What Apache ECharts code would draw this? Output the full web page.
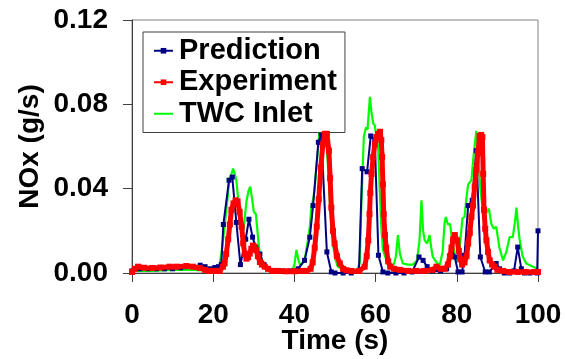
<!DOCTYPE html>
<html>
<head>
<meta charset="utf-8">
<script src="https://cdn.jsdelivr.net/npm/echarts@6/dist/echarts.min.js"></script>
<style>
  html, body { margin: 0; padding: 0; background: #fff; }
  #chart { width: 566px; height: 359px; }
</style>
</head>
<body>
<div id="chart"></div>
<script>
// NOx mass flow over the first 100 s: model prediction, measured tailpipe, and TWC inlet feed.
const seriesNames = ['Prediction', 'Experiment', 'TWC Inlet'];
const xTicks = { min: 0, max: 100, step: 20 };
const yTicks = { min: 0, max: 0.12, step: 0.04 };

// [time (s), NOx (g/s)]
const prediction = [
  [0, 0.001], [0.7, 0.002], [2, 0.002], [4, 0.002], [6, 0.002], [8, 0.002], [10, 0.002],
  [12, 0.0025], [13.3, 0.003], [15, 0.003], [16.8, 0.0037], [18, 0.003], [19.3, 0.002],
  [20.4, 0.0026], [21.3, 0.003], [22, 0.004], [22.5, 0.023], [23.9, 0.044], [24.7, 0.0455],
  [25.7, 0.024], [26.7, 0.004], [28, 0.016], [28.8, 0.0255], [29.7, 0.017], [30.5, 0.012],
  [31.5, 0.009], [32.5, 0.004], [33.5, 0.002], [35, 0.001], [37, 0.001], [39, 0.001],
  [40.9, 0.002], [42.5, 0.006], [43.8, 0.017], [44.6, 0.032], [45.9, 0.062], [46.6, 0.066],
  [48, 0.010], [49.1, 0.0005], [50, 0], [52, 0], [54, 0], [55.9, 0.001], [56.7, 0.0495],
  [57.9, 0.048], [58.8, 0.065], [59.8, 0.063], [60.7, 0.0084], [61.8, 0.0005], [63, 0],
  [65, 0], [67, 0], [69, 0.0005], [70.7, 0.0076], [71.7, 0.006], [72.7, 0.003], [74, 0.001],
  [76, 0.001], [77.5, 0.002], [78.7, 0.0115], [79.5, 0.0076], [80.3, 0.0005], [81.3, 0.0005],
  [81.9, 0.0084], [82.8, 0.032], [83.8, 0.0345], [84.8, 0.058], [85.8, 0.0076], [87, 0.0005],
  [88, 0.0005], [89.7, 0.0045], [90.5, 0.002], [91.7, 0], [93, 0], [94.1, 0.001],
  [95, 0.0123], [95.9, 0.002], [96.7, 0], [98, 0], [99.8, 0], [100, 0.02]
];

const experiment = [
  [0, 0.0005], [0.7, 0.002], [1.5, 0.003], [3, 0.0025], [5, 0.0024], [7, 0.0026],
  [9.3, 0.003], [11, 0.003], [13.4, 0.0033], [15, 0.003], [16.7, 0.0024], [18, 0.0015],
  [19, 0.001], [20, 0.001], [21, 0.001], [21.6, 0.001], [22.4, 0.003], [22.8, 0.0045],
  [23.2, 0.009], [23.7, 0.016], [24.1, 0.023], [24.5, 0.030], [25, 0.033], [25.5, 0.0345],
  [26, 0.034], [26.5, 0.029], [27, 0.022], [27.4, 0.014], [27.8, 0.009], [28.2, 0.0068],
  [28.6, 0.0075], [29, 0.0092], [29.4, 0.0115], [29.8, 0.013], [30.2, 0.0125], [30.6, 0.0108],
  [31, 0.008], [31.5, 0.0052], [32, 0.004], [32.7, 0.003], [33.5, 0.002], [34.5, 0.001],
  [36, 0.001], [38, 0.0008], [40, 0.0008], [42, 0.001], [43, 0.001], [44, 0.002],
  [44.5, 0.005], [45, 0.012], [45.5, 0.022], [46, 0.035], [46.5, 0.050], [47, 0.061],
  [47.5, 0.066], [48, 0.066], [48.5, 0.058], [48.8, 0.045], [49.1, 0.031], [49.5, 0.020],
  [49.9, 0.014], [50.5, 0.008], [51.2, 0.0045], [52, 0.002], [52.8, 0.0013], [54, 0.001],
  [56, 0.001], [57.3, 0.003], [57.8, 0.008], [58.2, 0.0155], [58.5, 0.028], [58.7, 0.038],
  [59, 0.047], [59.4, 0.055], [59.8, 0.061], [60.2, 0.0645], [60.6, 0.066], [61.1, 0.067],
  [61.4, 0.063], [61.6, 0.055], [61.8, 0.042], [62, 0.028], [62.3, 0.018], [62.6, 0.012],
  [63.1, 0.0055], [63.6, 0.003], [64.5, 0.002], [66, 0.0015], [68, 0.001], [70, 0.001],
  [72, 0.001], [74, 0.0015], [75, 0.003], [76, 0.002], [77, 0.002], [77.8, 0.004],
  [78.3, 0.008], [78.7, 0.012], [79.1, 0.016], [79.5, 0.018], [80.1, 0.0155], [80.5, 0.0105],
  [80.9, 0.0065], [81.3, 0.004], [81.9, 0.005], [82.4, 0.008], [82.8, 0.014], [83.2, 0.019],
  [83.6, 0.0266], [84, 0.032], [84.4, 0.041], [84.8, 0.049], [85.2, 0.057], [85.6, 0.065],
  [86, 0.0655], [86.3, 0.0645], [86.5, 0.047], [86.7, 0.030], [87, 0.021], [87.3, 0.0155],
  [87.7, 0.010], [88.1, 0.006], [88.7, 0.004], [89.3, 0.003], [90, 0.0015], [91.4, 0.001],
  [93, 0.0005], [95, 0.0005], [97, 0.0005], [99, 0.0005], [100, 0.0005]
];

const twcInlet = [
  [0, 0.001], [5, 0.001], [10, 0.0015], [15, 0.0015], [20, 0.001], [21, 0.0015],
  [21.6, 0.004], [22.2, 0.012], [22.8, 0.022], [23.4, 0.033], [24, 0.045], [24.5, 0.047],
  [24.9, 0.0495], [25.3, 0.047], [25.7, 0.044], [26.2, 0.034], [26.7, 0.022], [27.2, 0.016],
  [27.7, 0.025], [28.2, 0.034], [28.7, 0.039], [29.1, 0.041], [29.6, 0.035], [30.0, 0.029],
  [30.5, 0.028], [31.0, 0.018], [31.4, 0.010], [32, 0.006], [33, 0.003], [34, 0.002],
  [36, 0.001], [38, 0.001], [39.5, 0.001], [40, 0.004], [40.5, 0.011], [41, 0.006],
  [41.5, 0.0035], [42.5, 0.006], [43.2, 0.014], [43.8, 0.022], [44.2, 0.032], [44.6, 0.0345],
  [45, 0.04], [45.4, 0.050], [45.8, 0.058], [46.2, 0.069], [46.7, 0.072], [47.2, 0.068],
  [47.9, 0.061], [48.3, 0.050], [48.7, 0.0345], [49.1, 0.022], [49.5, 0.014], [50, 0.007],
  [50.7, 0.003], [52, 0.0015], [54, 0.001], [55.5, 0.0015], [56.1, 0.005], [56.5, 0.033],
  [57.1, 0.0645], [57.6, 0.069], [58.0, 0.068], [58.6, 0.0835], [59.0, 0.076], [59.4, 0.071],
  [59.8, 0.070], [60.2, 0.0695], [60.6, 0.060], [61.0, 0.040], [61.4, 0.022], [61.8, 0.011],
  [62.6, 0.0065], [63.5, 0.004], [64.5, 0.004], [65.0, 0.008], [65.5, 0.018], [66.0, 0.009],
  [66.7, 0.0045], [68, 0.004], [69.2, 0.004], [70.2, 0.006], [70.8, 0.015], [71.3, 0.0345],
  [71.7, 0.020], [72.1, 0.0155], [72.7, 0.014], [73.3, 0.018], [73.7, 0.012], [74.1, 0.0076],
  [75, 0.005], [75.8, 0.0037], [76.5, 0.010], [77.0, 0.024], [77.3, 0.0266], [77.8, 0.023],
  [78.3, 0.0234], [79, 0.014], [79.9, 0.005], [80.6, 0.010], [81.4, 0.026], [81.9, 0.0266],
  [82.4, 0.036], [82.8, 0.042], [83.6, 0.044], [84.1, 0.055], [84.8, 0.0674], [85.3, 0.055],
  [85.8, 0.040], [86.4, 0.030], [87.1, 0.028], [87.9, 0.0305], [88.5, 0.0234], [89.1, 0.021],
  [89.7, 0.022], [90.5, 0.012], [91.4, 0.006], [92.2, 0.010], [93, 0.017], [93.8, 0.017],
  [94.3, 0.024], [94.7, 0.031], [95.1, 0.022], [95.5, 0.0155], [96.2, 0.008], [97.1, 0.0045],
  [98.8, 0.003], [100, 0.002]
];

const FONT = "'Liberation Sans', Arial, Helvetica, sans-serif";
const chart = echarts.init(document.getElementById('chart'), null, { renderer: 'canvas' });

const labelStyle = { fontFamily: FONT, fontWeight: 'bold', fontSize: 28, color: '#000' };

chart.setOption({
  animation: false,
  backgroundColor: '#fff',
  grid: {
    left: 132, right: 28, top: 20, bottom: 86,
    outerBoundsMode: 'none',
    containLabel: false,
    show: true, borderColor: '#808080', borderWidth: 1, backgroundColor: 'transparent'
  },
  legend: {
    data: [
      { name: 'Prediction' },
      { name: 'Experiment' },
      // plain line key, no marker
      { name: 'TWC Inlet', itemStyle: { opacity: 0 } }
    ],
    orient: 'vertical',
    left: 143, top: 32,
    padding: [3, 8, 3, 10],
    itemGap: 0,
    itemWidth: 19,
    itemHeight: 7,
    backgroundColor: '#fff',
    borderColor: '#404040',
    borderWidth: 1,
    textStyle: { fontFamily: FONT, fontWeight: 'bold', fontSize: 29, color: '#000', lineHeight: 31.5, padding: [0, 0, 0, 1] }
  },
  xAxis: {
    type: 'value',
    min: xTicks.min, max: xTicks.max, interval: xTicks.step,
    name: 'Time (s)', nameLocation: 'middle', nameGap: 54,
    nameMoveOverlap: false,
    nameTextStyle: labelStyle,
    axisLine: { show: true, lineStyle: { color: '#404040', width: 1 } },
    axisTick: { show: true, length: 9, lineStyle: { color: '#404040' } },
    axisLabel: Object.assign({ margin: 28 }, labelStyle),
    splitLine: { show: false }
  },
  yAxis: {
    type: 'value',
    min: yTicks.min, max: yTicks.max, interval: yTicks.step,
    name: 'NOx (g/s)', nameLocation: 'middle', nameGap: 88,
    nameMoveOverlap: false,
    nameTextStyle: labelStyle,
    axisLine: { show: true, lineStyle: { color: '#404040', width: 1 } },
    axisTick: { show: true, length: 9, lineStyle: { color: '#404040' } },
    axisLabel: Object.assign({ margin: 24, formatter: v => v.toFixed(2) }, labelStyle),
    splitLine: { show: false }
  },
  series: [
    {
      name: 'TWC Inlet', type: 'line', data: twcInlet,
      symbol: 'none', lineStyle: { color: '#00ff00', width: 2.2 }, itemStyle: { color: '#00ff00' },
      z: 2
    },
    {
      name: 'Prediction', type: 'line', data: prediction,
      symbol: 'rect', symbolSize: 5, showAllSymbol: true,
      lineStyle: { color: '#000080', width: 2 }, itemStyle: { color: '#000080' },
      z: 3
    },
    {
      name: 'Experiment', type: 'line', data: experiment,
      symbol: 'rect', symbolSize: 6, showAllSymbol: true,
      lineStyle: { color: '#ff0000', width: 5 }, itemStyle: { color: '#ff0000' },
      z: 4
    }
  ]
});
</script>
</body>
</html>
